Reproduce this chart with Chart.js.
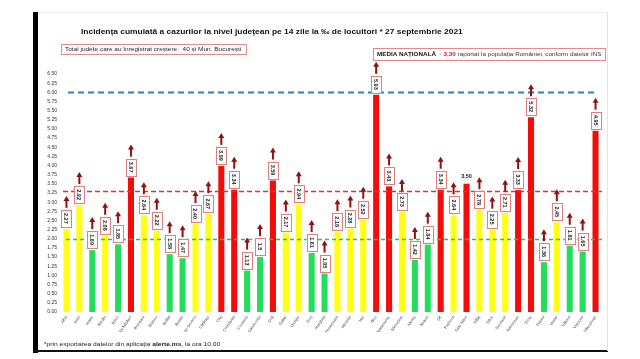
<!DOCTYPE html>
<html>
<head>
<meta charset="utf-8">
<script src="https://cdn.jsdelivr.net/npm/chart.js@4.4.1/dist/chart.umd.min.js"></script>
<style>
  html, body { margin: 0; padding: 0; background: #fff; width: 640px; height: 359px; overflow: hidden; }
  #wrap { position: relative; width: 640px; height: 359px; font-family: "Liberation Sans", Arial, sans-serif; }
  canvas { position: absolute; left: 0; top: 0; }
  .abs { position: absolute; white-space: nowrap; transform-origin: 0 50%; line-height: 1; }
  #leftbar { position: absolute; left: 33px; top: 12px; width: 5px; height: 341px; background: #000; }
  #bottombar { position: absolute; left: 33px; top: 350px; width: 575px; height: 2px; background: #111; }
  #rightline { position: absolute; left: 607px; top: 12px; width: 1px; height: 339px; background: #e4e4e4; }
  #topline { position: absolute; left: 38px; top: 12px; width: 570px; height: 1px; background: #eee; }
  .box { position: absolute; border: 1px solid #e38a8a; background: #fff; box-sizing: border-box; }
</style>
</head>
<body>
<div id="wrap">
  <canvas id="c" width="640" height="359"></canvas>
  <div id="leftbar"></div>
  <div id="bottombar"></div>
  <div id="rightline"></div>
  <div id="topline"></div>
  <div id="title" class="abs" style="left:81px; top:28px; font-size:8px; font-weight:bold; color:#111;">Incidența cumulată a cazurilor la nivel județean pe 14 zile la ‰ de locuitori * 27 septembrie 2021</div>
  <div class="box" style="left:61px; top:44px; width:186px; height:11px;"></div>
  <div id="total" class="abs" style="left:65px; top:47px; font-size:5px; color:#222;">Total județe care au înregistrat creștere:&nbsp; 40 și Mun. București</div>
  <div class="box" style="left:373px; top:48px; width:233px; height:13px;"></div>
  <div id="media" class="abs" style="left:377px; top:52px; font-size:5.5px; color:#333;"><b style="color:#111">MEDIA NAȚIONALĂ</b>&nbsp; - <b style="color:#e21b1b">3,30</b> raportat la populația României, conform datelor INS</div>
  <div id="foot" class="abs" style="left:44px; top:341px; font-size:6px; color:#222;">*prin exportarea datelor din aplicația <b>alerte.ms</b>, la ora 10.00</div>
</div>
<script>
// ---- data ----
const counties = ['Alba','Arad','Argeș','Bacău','Bihor','Bistrița-Năsăud','Botoșani','Brașov','Brăila','Buzău',
  'Caraș-Severin','Călărași','Cluj','Constanța','Covasna','Dâmbovița','Dolj','Galați','Giurgiu','Gorj',
  'Harghita','Hunedoara','Ialomița','Iași','Ilfov','Maramureș','Mehedinți','Mureș','Neamț','Olt',
  'Prahova','Satu Mare','Sălaj','Sibiu','Suceava','Teleorman','Timiș','Tulcea','Vaslui','Vâlcea',
  'Vrancea','Municipiul București'];
const incidence = [2.27,2.92,1.69,2.08,1.85,3.67,2.64,2.22,1.58,1.47,
  2.40,2.67,3.99,3.34,1.13,1.50,3.59,2.17,2.94,1.61,
  1.05,2.18,2.28,2.52,5.93,3.43,2.73,1.42,1.84,3.34,
  2.64,3.50,2.78,2.25,2.71,3.33,5.32,1.36,2.45,1.81,
  1.65,4.95];
const valueLabels = ['2.27','2.92','1.69','2.08','1.85','3.67','2.64','2.22','1.58','1.47',
  '2.40','2.67','3.99','3.34','1.13','1.5','3.59','2.17','2.94','1.61',
  '1.05','2.18','2.28','2.52','5.93','3.43','2.73','1.42','1.84','3.34',
  '2.64','3.50','2.78','2.25','2.71','3.33','5.32','1.36','2.45','1.81',
  '1.65','4.95'];
const nationalAverage = 3.30;
const upperThreshold = 6.00;
const lowerThreshold = 2.00;
const plainLabelCounties = ['Satu Mare'];

// ---- styles ----
const RED = '#f20d0d', YELLOW = '#ffff14', GREEN = '#25dc5c';
const barColors = incidence.map(v => v > nationalAverage ? RED : (v < lowerThreshold ? GREEN : YELLOW));

function fitText(id, width) {
  const el = document.getElementById(id);
  const w = el.scrollWidth;
  el.style.transform = 'scaleX(' + (width / w) + ')';
}
fitText('title', 382);
fitText('total', 176);
fitText('media', 224);
fitText('foot', 176);

const refLines = {
  id: 'refLines',
  afterDatasetsDraw(chart) {
    const ctx = chart.ctx, y = chart.scales.y, a = chart.chartArea;
    const lines = [
      {v: lowerThreshold, c: '#2fbf5a', w: 1.3, d: [4, 3], x0: a.left + 6, x1: a.right + 1},
      {v: nationalAverage, c: '#e0302f', w: 1.4, d: [5, 3], x0: a.left + 3, x1: a.right},
      {v: upperThreshold, c: '#2c7cd0', w: 2, d: [6, 4], x0: a.left + 8, x1: a.right - 4}
    ];
    ctx.save();
    lines.forEach(l => {
      const py = Math.round(y.getPixelForValue(l.v)) + 0.5;
      ctx.strokeStyle = l.c; ctx.lineWidth = l.w; ctx.setLineDash(l.d);
      ctx.beginPath(); ctx.moveTo(l.x0, py); ctx.lineTo(l.x1, py); ctx.stroke();
    });
    ctx.restore();
  }
};

const labelBoxes = {
  id: 'labelBoxes',
  afterDraw(chart) {
    const ctx = chart.ctx;
    const meta = chart.getDatasetMeta(0);
    ctx.save();
    meta.data.forEach((bar, i) => {
      const x = bar.x, top = bar.y;
      if (plainLabelCounties.includes(counties[i])) {
        ctx.fillStyle = '#222';
        ctx.font = 'bold 5.5px "Liberation Sans", Arial';
        ctx.textAlign = 'center'; ctx.textBaseline = 'middle';
        ctx.fillText(valueLabels[i], x, top - 7);
        return;
      }
      const bw = 10, bh = 17;
      const bBottom = top - 2, bTop = bBottom - bh;
      ctx.fillStyle = '#fff';
      ctx.fillRect(x - bw / 2, bTop, bw, bh);
      ctx.strokeStyle = '#e07f7f'; ctx.lineWidth = 1;
      ctx.strokeRect(Math.round(x - bw / 2) + 0.5, Math.round(bTop) + 0.5, bw, bh);
      ctx.save();
      ctx.translate(x, bTop + bh / 2);
      ctx.rotate(Math.PI / 2);
      ctx.fillStyle = '#222';
      ctx.font = 'bold 5.5px "Liberation Sans", Arial';
      ctx.textAlign = 'center'; ctx.textBaseline = 'middle';
      ctx.fillText(valueLabels[i], 0, 0.5);
      ctx.restore();
      // arrow
      const aBottom = bTop - 2, aTop = aBottom - 12;
      ctx.fillStyle = '#8e1212';
      ctx.fillRect(x - 1, aTop + 4, 2, aBottom - aTop - 4);
      ctx.beginPath();
      ctx.moveTo(x, aTop); ctx.lineTo(x + 3, aTop + 5); ctx.lineTo(x - 3, aTop + 5); ctx.closePath();
      ctx.fill();
    });
    ctx.restore();
  }
};

new Chart(document.getElementById('c'), {
  type: 'bar',
  data: {
    labels: counties,
    datasets: [{ data: incidence, backgroundColor: barColors, borderWidth: 0, barPercentage: 0.47, categoryPercentage: 1 }]
  },
  options: {
    responsive: false,
    animation: false,
    events: [],
    layout: { padding: { top: 74, left: 0, right: 38, bottom: 27 } },
    plugins: { legend: { display: false }, tooltip: { enabled: false }, title: { display: false } },
    scales: {
      x: {
        grid: { display: false, drawTicks: false },
        border: { display: false },
        ticks: { autoSkip: false, maxRotation: 55, minRotation: 55, padding: 3, color: '#444',
                 font: { size: 4, family: '"Liberation Sans", Arial' } },
        afterFit(s) { s.height = 20; }
      },
      y: {
        min: 0, max: 6.5,
        grid: { display: false, drawTicks: false },
        border: { display: false },
        ticks: { stepSize: 0.25, padding: 3, color: '#333', font: { size: 5, family: '"Liberation Sans", Arial' },
                 callback: v => Number(v).toFixed(2) },
        afterFit(s) { s.width = 60; }
      }
    }
  },
  plugins: [refLines, labelBoxes]
});
</script>
</body>
</html>
